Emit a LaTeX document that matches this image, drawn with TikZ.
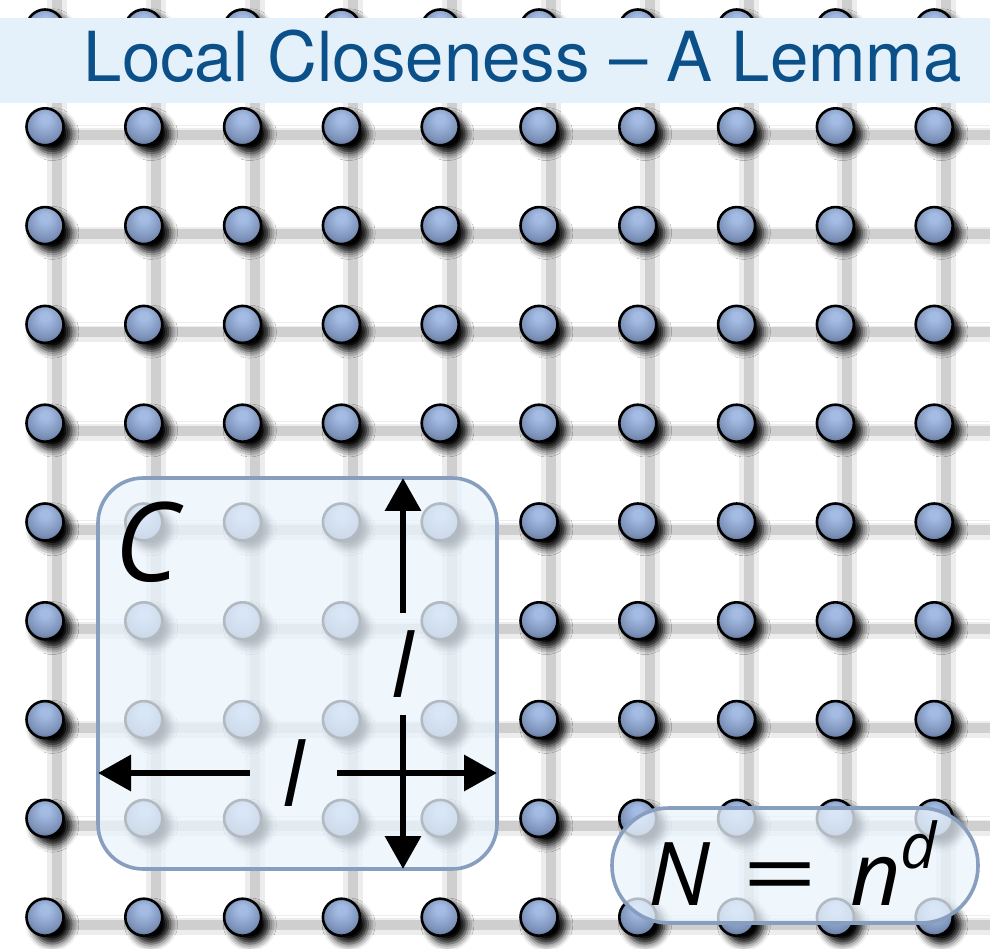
\documentclass[tikz,border=0pt]{standalone}
\usepackage{fontspec}
\setsansfont{TeX Gyre Heros}
\newfontfamily\labelfont{Open Sans}
\usetikzlibrary{arrows.meta,shadows.blur,positioning}
\definecolor{titleblue}{RGB}{12,80,138}
\definecolor{barfill}{RGB}{228,241,251}
\definecolor{zonefill}{RGB}{234,244,253}
\definecolor{zoneedge}{RGB}{136,158,190}
\definecolor{orbhi}{RGB}{164,188,228}
\definecolor{orbmid}{RGB}{124,145,184}
\definecolor{orblo}{RGB}{74,92,124}
\pgfdeclareradialshading{orbshade}{\pgfpoint{0bp}{12bp}}{color(0bp)=(orbhi); color(6bp)=(orbhi); color(24bp)=(orbmid); color(36bp)=(orblo); color(50bp)=(orblo)}
\pgfdeclarelayer{bg}
\pgfsetlayers{bg,main}
\tikzset{
  site/.style={circle,draw=black,line width=2.6pt,minimum size=37pt,inner sep=0pt,shading=orbshade,
               blur shadow={shadow xshift=7pt,shadow yshift=-7pt,shadow blur radius=7pt,
                            shadow scale=1.04,shadow opacity=100}},
  bond/.style={white,line width=2.4pt},
  bondshade/.style={black!19,line width=10pt},
  bondhaze/.style={black!7,line width=20pt},
  titlebar/.style={fill=barfill,minimum width=990pt,minimum height=85pt,inner sep=0pt,outer sep=0pt},
  titletext/.style={text=titleblue,font=\sffamily\fontsize{69}{69}\selectfont,inner sep=0pt},
  zone/.style={draw=zoneedge,fill=zonefill,fill opacity=0.76,draw opacity=1,line width=3.6pt,inner sep=0pt,outer sep=0pt},
  lbl/.style={inner sep=0pt,font=\labelfont\itshape\fontsize{88}{88}\selectfont},
  dim/.style={-{Triangle[length=33pt,width=35pt]},line width=6.5pt}
}
\begin{document}
\begin{tikzpicture}[x=1pt,y=1pt]
  \useasboundingbox (0,0) rectangle (990,948);

  % lattice sites, rows counted from the top
  \foreach \i in {0,...,9} {
    \foreach \j in {0,...,9} {
      \node[site] (s-\i-\j) at ({45+98.8*\i},{920-98.8*\j}) {};
    }
  }
  \foreach \j in {0,...,9} \coordinate (r-\j) at (990,{920-98.8*\j});
  \foreach \i in {0,...,9} \coordinate (t-\i) at ({45+98.8*\i},948);

  % bonds, kept behind the sites
  \begin{pgfonlayer}{bg}
    \foreach \j in {0,...,9} {
      \foreach \i [evaluate=\i as \n using int(\i+1)] in {0,...,8} {
        \draw[bondhaze] ([shift={(2,-8)}]s-\i-\j.center) -- ([shift={(2,-8)}]s-\n-\j.center);
        \draw[bondshade] ([shift={(2,-8)}]s-\i-\j.center) -- ([shift={(2,-8)}]s-\n-\j.center);
      }
      \draw[bondhaze] ([shift={(2,-8)}]s-9-\j.center) -- ([yshift=-8pt]r-\j);
      \draw[bondshade] ([shift={(2,-8)}]s-9-\j.center) -- ([yshift=-8pt]r-\j);
    }
    \foreach \i in {0,...,9} {
      \foreach \j [evaluate=\j as \n using int(\j+1)] in {0,...,8} {
        \draw[bondhaze] ([xshift=12pt]s-\i-\j.center) -- ([xshift=12pt]s-\i-\n.center);
        \draw[bondshade] ([xshift=12pt]s-\i-\j.center) -- ([xshift=12pt]s-\i-\n.center);
      }
      \draw[bondhaze] ([xshift=12pt]s-\i-0.center) -- ([xshift=12pt]t-\i);
      \draw[bondshade] ([xshift=12pt]s-\i-0.center) -- ([xshift=12pt]t-\i);
    }
    \foreach \j in {0,...,9} {
      \foreach \i [evaluate=\i as \n using int(\i+1)] in {0,...,8}
        \draw[bond] (s-\i-\j.center) -- (s-\n-\j.center);
      \draw[bond] (s-9-\j.center) -- (r-\j);
    }
    \foreach \i in {0,...,9} {
      \foreach \j [evaluate=\j as \n using int(\j+1)] in {0,...,8}
        \draw[bond] (s-\i-\j.center) -- (s-\i-\n.center);
      \draw[bond] (s-\i-0.center) -- (t-\i);
    }
  \end{pgfonlayer}

  % title
  \node[titlebar] (bar) at (495,887.5) {};
  \node[titletext,anchor=base east] (title) at (962,866) {Local Closeness – A Lemma};

  % the cube C with its side length
  \node[zone,minimum width=399pt,minimum height=391pt,rounded corners=45pt] (zoneC) at (297.5,274.5) {};
  \node[lbl,font=\labelfont\itshape\fontsize{110}{110}\selectfont] (cname) at (147,406) {C};
  \node[lbl,minimum height=102pt] (lv) at (403,284) {l};
  \node[lbl,minimum width=87pt] (lh) at (293.5,175) {l};
  \draw[dim] (lv.north) -- (lv.north |- zoneC.north);
  \draw[dim] (lv.south) -- (lv.south |- zoneC.south);
  \draw[dim] (lh.west) -- (lh.west -| zoneC.west);
  \draw[dim] (lh.east) -- (lh.east -| zoneC.east);

  % number of sites
  \node[zone,minimum width=366pt,minimum height=115pt,rounded corners=57pt] (zoneN) at (795,82.5) {};
  \node[lbl,anchor=base] (law) at (793,43)
    {N\hspace{32pt}{\upshape\scalebox{1.5}[1]{=}}\hspace{32pt}n\raisebox{37pt}{\fontsize{63}{63}\selectfont d}};
\end{tikzpicture}
\end{document}
